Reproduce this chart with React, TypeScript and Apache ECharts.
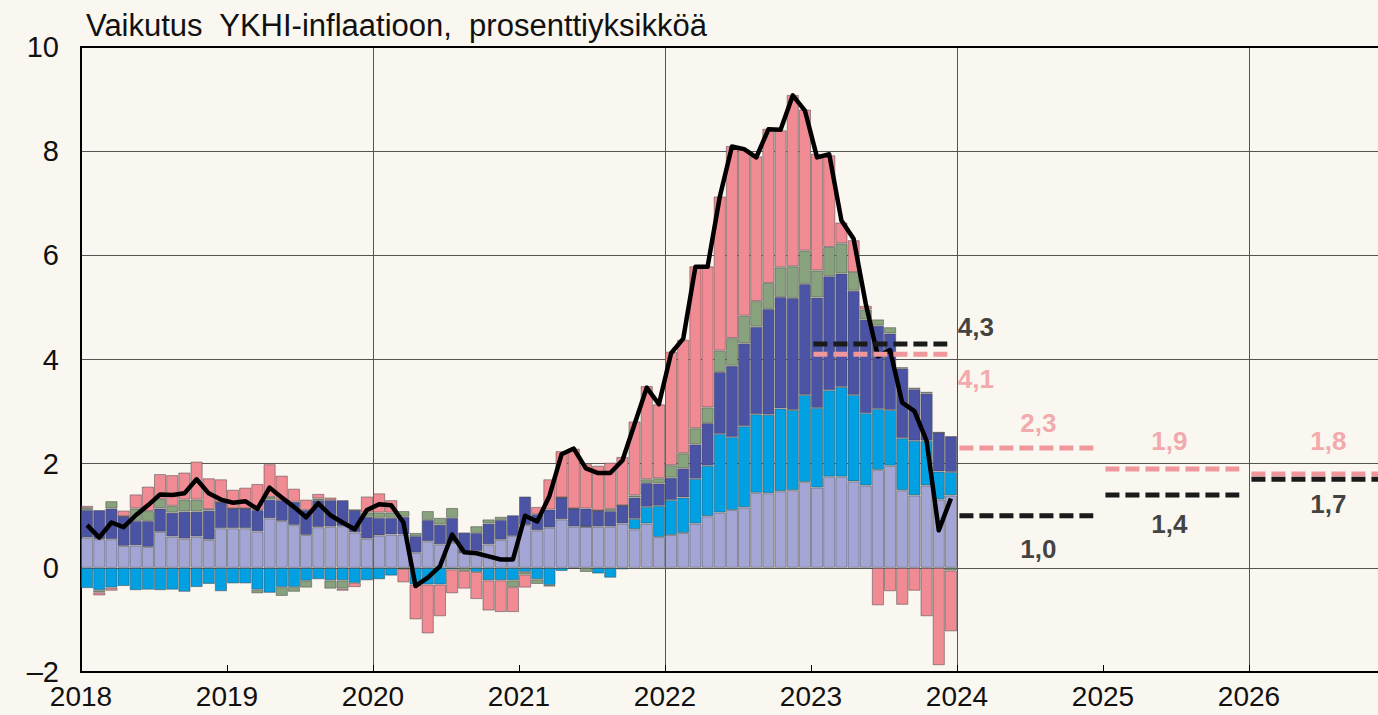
import { useEffect, useRef } from "react";
import * as echarts from "echarts";

const START_YEAR = 2018;
const AXIS_YEARS = 9; // 2018 .. 2026 shown on the time axis

// Monthly contributions, Jan 2018 – Dec 2023 (percentage points)
const palvelut = [
  0.58, 0.55, 0.55, 0.42, 0.43, 0.40, 0.69, 0.60, 0.56, 0.60, 0.54, 0.76,
  0.76, 0.76, 0.70, 0.95, 0.90, 0.82, 0.63, 0.78, 0.79, 0.80, 0.68, 0.56,
  0.62, 0.64, 0.64, 0.29, 0.51, 0.45, 0.48, 0.30, 0.32, 0.45, 0.54, 0.61,
  0.82, 0.72, 0.77, 0.93, 0.79, 0.79, 0.79, 0.79, 0.85, 0.74, 0.85, 0.59,
  0.63, 0.67, 0.85, 0.99, 1.06, 1.11, 1.16, 1.44, 1.43, 1.47, 1.49, 1.65,
  1.54, 1.75, 1.75, 1.66, 1.58, 1.88, 1.96, 1.49, 1.39, 1.58, 1.31, 1.39,
];
const teollisuustuotteet = [
  -0.39, -0.43, -0.38, -0.35, -0.43, -0.42, -0.43, -0.42, -0.46, -0.37, -0.31, -0.45,
  -0.30, -0.30, -0.42, -0.48, -0.37, -0.37, -0.25, -0.22, -0.24, -0.24, -0.29, -0.24,
  -0.22, -0.15, -0.02, -0.32, -0.32, -0.32, -0.03, 0.0, -0.08, -0.24, -0.24, -0.24,
  -0.08, -0.22, -0.33, -0.06, -0.02, 0.0, -0.11, -0.19, -0.03, 0.20, 0.32, 0.60,
  0.67, 0.68, 0.86, 0.97, 1.51, 1.40, 1.56, 1.51, 1.51, 1.59, 1.54, 1.67,
  1.53, 1.66, 1.72, 1.66, 1.39, 1.17, 1.07, 1.00, 1.05, 0.86, 0.54, 0.45,
];
const elintarvikkeet = [
  0.53, 0.56, 0.59, 0.57, 0.47, 0.50, 0.45, 0.46, 0.52, 0.48, 0.56, 0.50,
  0.38, 0.38, 0.41, 0.36, 0.40, 0.45, 0.48, 0.52, 0.51, 0.50, 0.43, 0.42,
  0.34, 0.32, 0.34, 0.32, 0.41, 0.38, 0.48, 0.38, 0.35, 0.40, 0.38, 0.40,
  0.55, 0.31, 0.35, 0.42, 0.35, 0.35, 0.31, 0.30, 0.35, 0.41, 0.46, 0.43,
  0.43, 0.56, 0.66, 0.82, 1.19, 1.37, 1.59, 1.68, 2.03, 2.14, 2.15, 2.13,
  2.12, 2.19, 2.18, 2.00, 1.80, 1.60, 1.47, 1.34, 0.99, 0.91, 0.75, 0.69,
];
const alkoholiJaTupakka = [
  0.04, -0.04, 0.14, 0.0, 0.24, 0.19, 0.18, 0.13, 0.23, 0.23, 0.03, 0.0,
  0.0, 0.0, -0.07, 0.05, -0.17, -0.09, -0.13, 0.03, -0.16, -0.16, 0.0, 0.08,
  0.10, 0.10, 0.11, 0.06, 0.17, 0.13, 0.19, -0.06, 0.13, 0.08, 0.06, -0.13,
  -0.05, -0.09, -0.03, 0.0, 0.0, -0.08, 0.0, 0.04, 0.0, 0.04, 0.07, 0.10,
  0.24, 0.29, 0.31, 0.30, 0.41, 0.53, 0.53, 0.49, 0.50, 0.57, 0.61, 0.64,
  0.52, 0.56, 0.58, 0.36, 0.19, 0.12, 0.12, 0.02, 0.03, 0.03, 0.0, -0.05,
];
const energia = [
  0.04, -0.06, -0.06, 0.11, 0.27, 0.47, 0.48, 0.59, 0.52, 0.73, 0.59, 0.44,
  0.36, 0.40, 0.50, 0.63, 0.47, 0.25, 0.20, 0.09, 0.05, -0.04, -0.08, 0.31,
  0.37, 0.24, -0.26, -0.67, -0.94, -0.61, -0.46, -0.34, -0.52, -0.58, -0.61, -0.48,
  -0.25, 0.14, 0.58, 0.89, 1.15, 0.85, 0.86, 0.89, 0.93, 1.42, 1.79, 1.42,
  2.18, 2.18, 3.11, 2.71, 2.96, 3.69, 3.19, 2.78, 2.96, 2.63, 3.29, 2.71,
  2.24, 1.76, 0.40, 0.61, 0.07, -0.72, -0.45, -0.71, -0.44, -0.93, -1.87, -1.17,
];
const ykhi = [
  0.82, 0.58, 0.87, 0.78, 1.01, 1.20, 1.41, 1.40, 1.43, 1.70, 1.43, 1.31,
  1.25, 1.28, 1.13, 1.54, 1.35, 1.17, 0.97, 1.24, 1.01, 0.87, 0.74, 1.11,
  1.22, 1.20, 0.87, -0.35, -0.19, 0.03, 0.64, 0.30, 0.28, 0.22, 0.16, 0.16,
  1.00, 0.89, 1.38, 2.18, 2.29, 1.91, 1.82, 1.82, 2.06, 2.76, 3.46, 3.14,
  4.12, 4.40, 5.78, 5.78, 7.12, 8.09, 8.04, 7.88, 8.42, 8.41, 9.07, 8.78,
  7.88, 7.94, 6.67, 6.32, 5.07, 4.06, 4.18, 3.17, 3.01, 2.44, 0.72, 1.33,
];

// Annual forecasts
const forecastYears = [2023, 2024, 2025, 2026];
const ykhiForecast = [4.3, 1.0, 1.4, 1.7];
const pohjaForecast = [4.1, 2.3, 1.9, 1.8];

const yTicks = [-2, 0, 2, 4, 6, 8, 10];
const TITLE = "Vaikutus  YKHI-inflaatioon,  prosenttiyksikköä";

const FONT = "'Liberation Sans', Arial, Helvetica, sans-serif";
const BG = "#faf6f0";
const PINK_DASH = "#f0979c";

const N_MONTHS = AXIS_YEARS * 12;
const monthCats = Array.from({ length: N_MONTHS }, (_, i) =>
  `${START_YEAR + Math.floor(i / 12)}-${String((i % 12) + 1).padStart(2, "0")}`
);

const fmt = (v: number) => v.toFixed(1).replace(".", ",");

// label placement styles for each forecast year
const ykhiLabelStyle = [
  { anchor: "end", position: "right", distance: 10, offset: [0, -17] },
  { anchor: "mid", position: "bottom", distance: 20, offset: [12, 0] },
  { anchor: "mid", position: "bottom", distance: 16, offset: [-3, 0] },
  { anchor: "mid", position: "bottom", distance: 11, offset: [10, 0] },
];
const pohjaLabelStyle = [
  { anchor: "end", position: "right", distance: 10, offset: [0, 25] },
  { anchor: "mid", position: "top", distance: 12, offset: [12, 0] },
  { anchor: "mid", position: "top", distance: 14, offset: [-3, 0] },
  { anchor: "mid", position: "top", distance: 20, offset: [10, 0] },
];

export default function App() {
  const ref = useRef<HTMLDivElement>(null);

  useEffect(() => {
    document.body.style.margin = "0";
    if (!ref.current) return;
    const chart = echarts.init(ref.current, undefined, { renderer: "svg" });

    const stacks = [
      { name: "Palvelut", data: palvelut, color: "#a3a6d5" },
      { name: "Teollisuustuotteet", data: teollisuustuotteet, color: "#00a0e2" },
      { name: "Elintarvikkeet", data: elintarvikkeet, color: "#4b53a4" },
      { name: "Alkoholi ja tupakka", data: alkoholiJaTupakka, color: "#87a27c" },
      { name: "Energia", data: energia, color: "#f08b93" },
    ];

    const barSeries = stacks.map((s) => ({
      type: "bar",
      name: s.name,
      stack: "total",
      xAxisIndex: 0,
      barCategoryGap: "0%",
      data: s.data,
      itemStyle: {
        color: s.color,
        borderColor: "rgba(70,70,70,0.5)",
        borderWidth: 1,
      },
      emphasis: { disabled: true },
      z: 2,
    }));

    const monthOf = (year: number, frac: number) => (year - START_YEAR) * 12 + frac;

    const segSeries: any[] = [];
    const labelData: any[] = [];
    const addForecast = (values: number[], color: string, styles: any[], z: number) => {
      values.forEach((v, k) => {
        const y = forecastYears[k];
        const s = monthOf(y, 0.2);
        const e = monthOf(y, 11.2);
        segSeries.push({
          type: "line",
          xAxisIndex: 1,
          data: [
            [s, v],
            [e, v],
          ],
          showSymbol: false,
          symbol: "none",
          lineStyle: { color, width: 5, type: [14, 6], cap: "butt" },
          emphasis: { disabled: true },
          silent: true,
          z,
        });
        const st = styles[k];
        const lx = st.anchor === "end" ? e : (s + e) / 2;
        labelData.push({
          value: [lx, v],
          label: {
            show: true,
            position: st.position,
            distance: st.distance,
            offset: st.offset,
            formatter: fmt(v),
            color: color === PINK_DASH ? "#f0959a" : "#111",
            fontSize: 26,
            fontWeight: "bold",
            fontFamily: FONT,
          },
        });
      });
    };
    addForecast(pohjaForecast, PINK_DASH, pohjaLabelStyle, 6);
    addForecast(ykhiForecast, "#1a1a1a", ykhiLabelStyle, 7);

    const option: any = {
      animation: false,
      backgroundColor: BG,
      title: {
        text: TITLE,
        left: 86,
        top: 10,
        padding: 0,
        textStyle: {
          fontFamily: FONT,
          fontSize: 31,
          fontWeight: "normal",
          color: "#111",
        },
      },
      grid: {
        left: 81,
        top: 47,
        right: 1378 - (81 + (N_MONTHS * 146) / 12),
        bottom: 43,
        containLabel: false,
        outerBoundsMode: "none",
      },
      xAxis: [
        {
          type: "category",
          data: monthCats,
          show: false,
          boundaryGap: true,
        },
        {
          type: "value",
          position: "bottom",
          min: 0,
          max: N_MONTHS,
          interval: 12,
          axisLine: { show: true, onZero: false, lineStyle: { color: "#000", width: 2 } },
          axisTick: { show: true, inside: true, length: 7, lineStyle: { color: "#000", width: 1 } },
          splitLine: { show: false },
          axisLabel: {
            margin: 10,
            fontSize: 28,
            fontFamily: FONT,
            color: "#111",
            showMaxLabel: false,
            formatter: (v: number) =>
              v < N_MONTHS && Math.abs(v / 12 - Math.round(v / 12)) < 1e-6
                ? String(START_YEAR + Math.round(v / 12))
                : "",
          },
        },
        {
          type: "value",
          position: "top",
          min: 0,
          max: N_MONTHS,
          interval: 24,
          axisLine: { show: true, onZero: false, lineStyle: { color: "#000", width: 2 } },
          axisTick: { show: false },
          axisLabel: { show: false },
          splitLine: { show: true, lineStyle: { color: "#555", width: 1 } },
        },
      ],
      yAxis: {
        type: "value",
        min: yTicks[0],
        max: yTicks[yTicks.length - 1],
        interval: 2,
        axisLine: { show: true, onZero: false, lineStyle: { color: "#000", width: 2 } },
        axisTick: { show: false },
        splitLine: { show: true, lineStyle: { color: "#555", width: 1 } },
        axisLabel: {
          margin: 22,
          fontSize: 29,
          fontFamily: FONT,
          color: "#111",
          formatter: (v: number) => (v < 0 ? "\u2013" + Math.abs(v) : String(v)),
        },
      },
      series: [
        ...barSeries,
        {
          type: "line",
          name: "YKHI",
          xAxisIndex: 0,
          data: ykhi,
          showSymbol: false,
          symbol: "none",
          lineStyle: { color: "#000", width: 4.5, join: "round" },
          emphasis: { disabled: true },
          z: 5,
        },
        ...segSeries,
        {
          type: "scatter",
          xAxisIndex: 1,
          data: labelData,
          symbolSize: 1,
          itemStyle: { color: "rgba(0,0,0,0)" },
          silent: true,
          z: 8,
        },
      ],
    };

    chart.setOption(option);
    return () => chart.dispose();
  }, []);

  return <div ref={ref} style={{ width: "1378px", height: "715px", background: BG }} />;
}
